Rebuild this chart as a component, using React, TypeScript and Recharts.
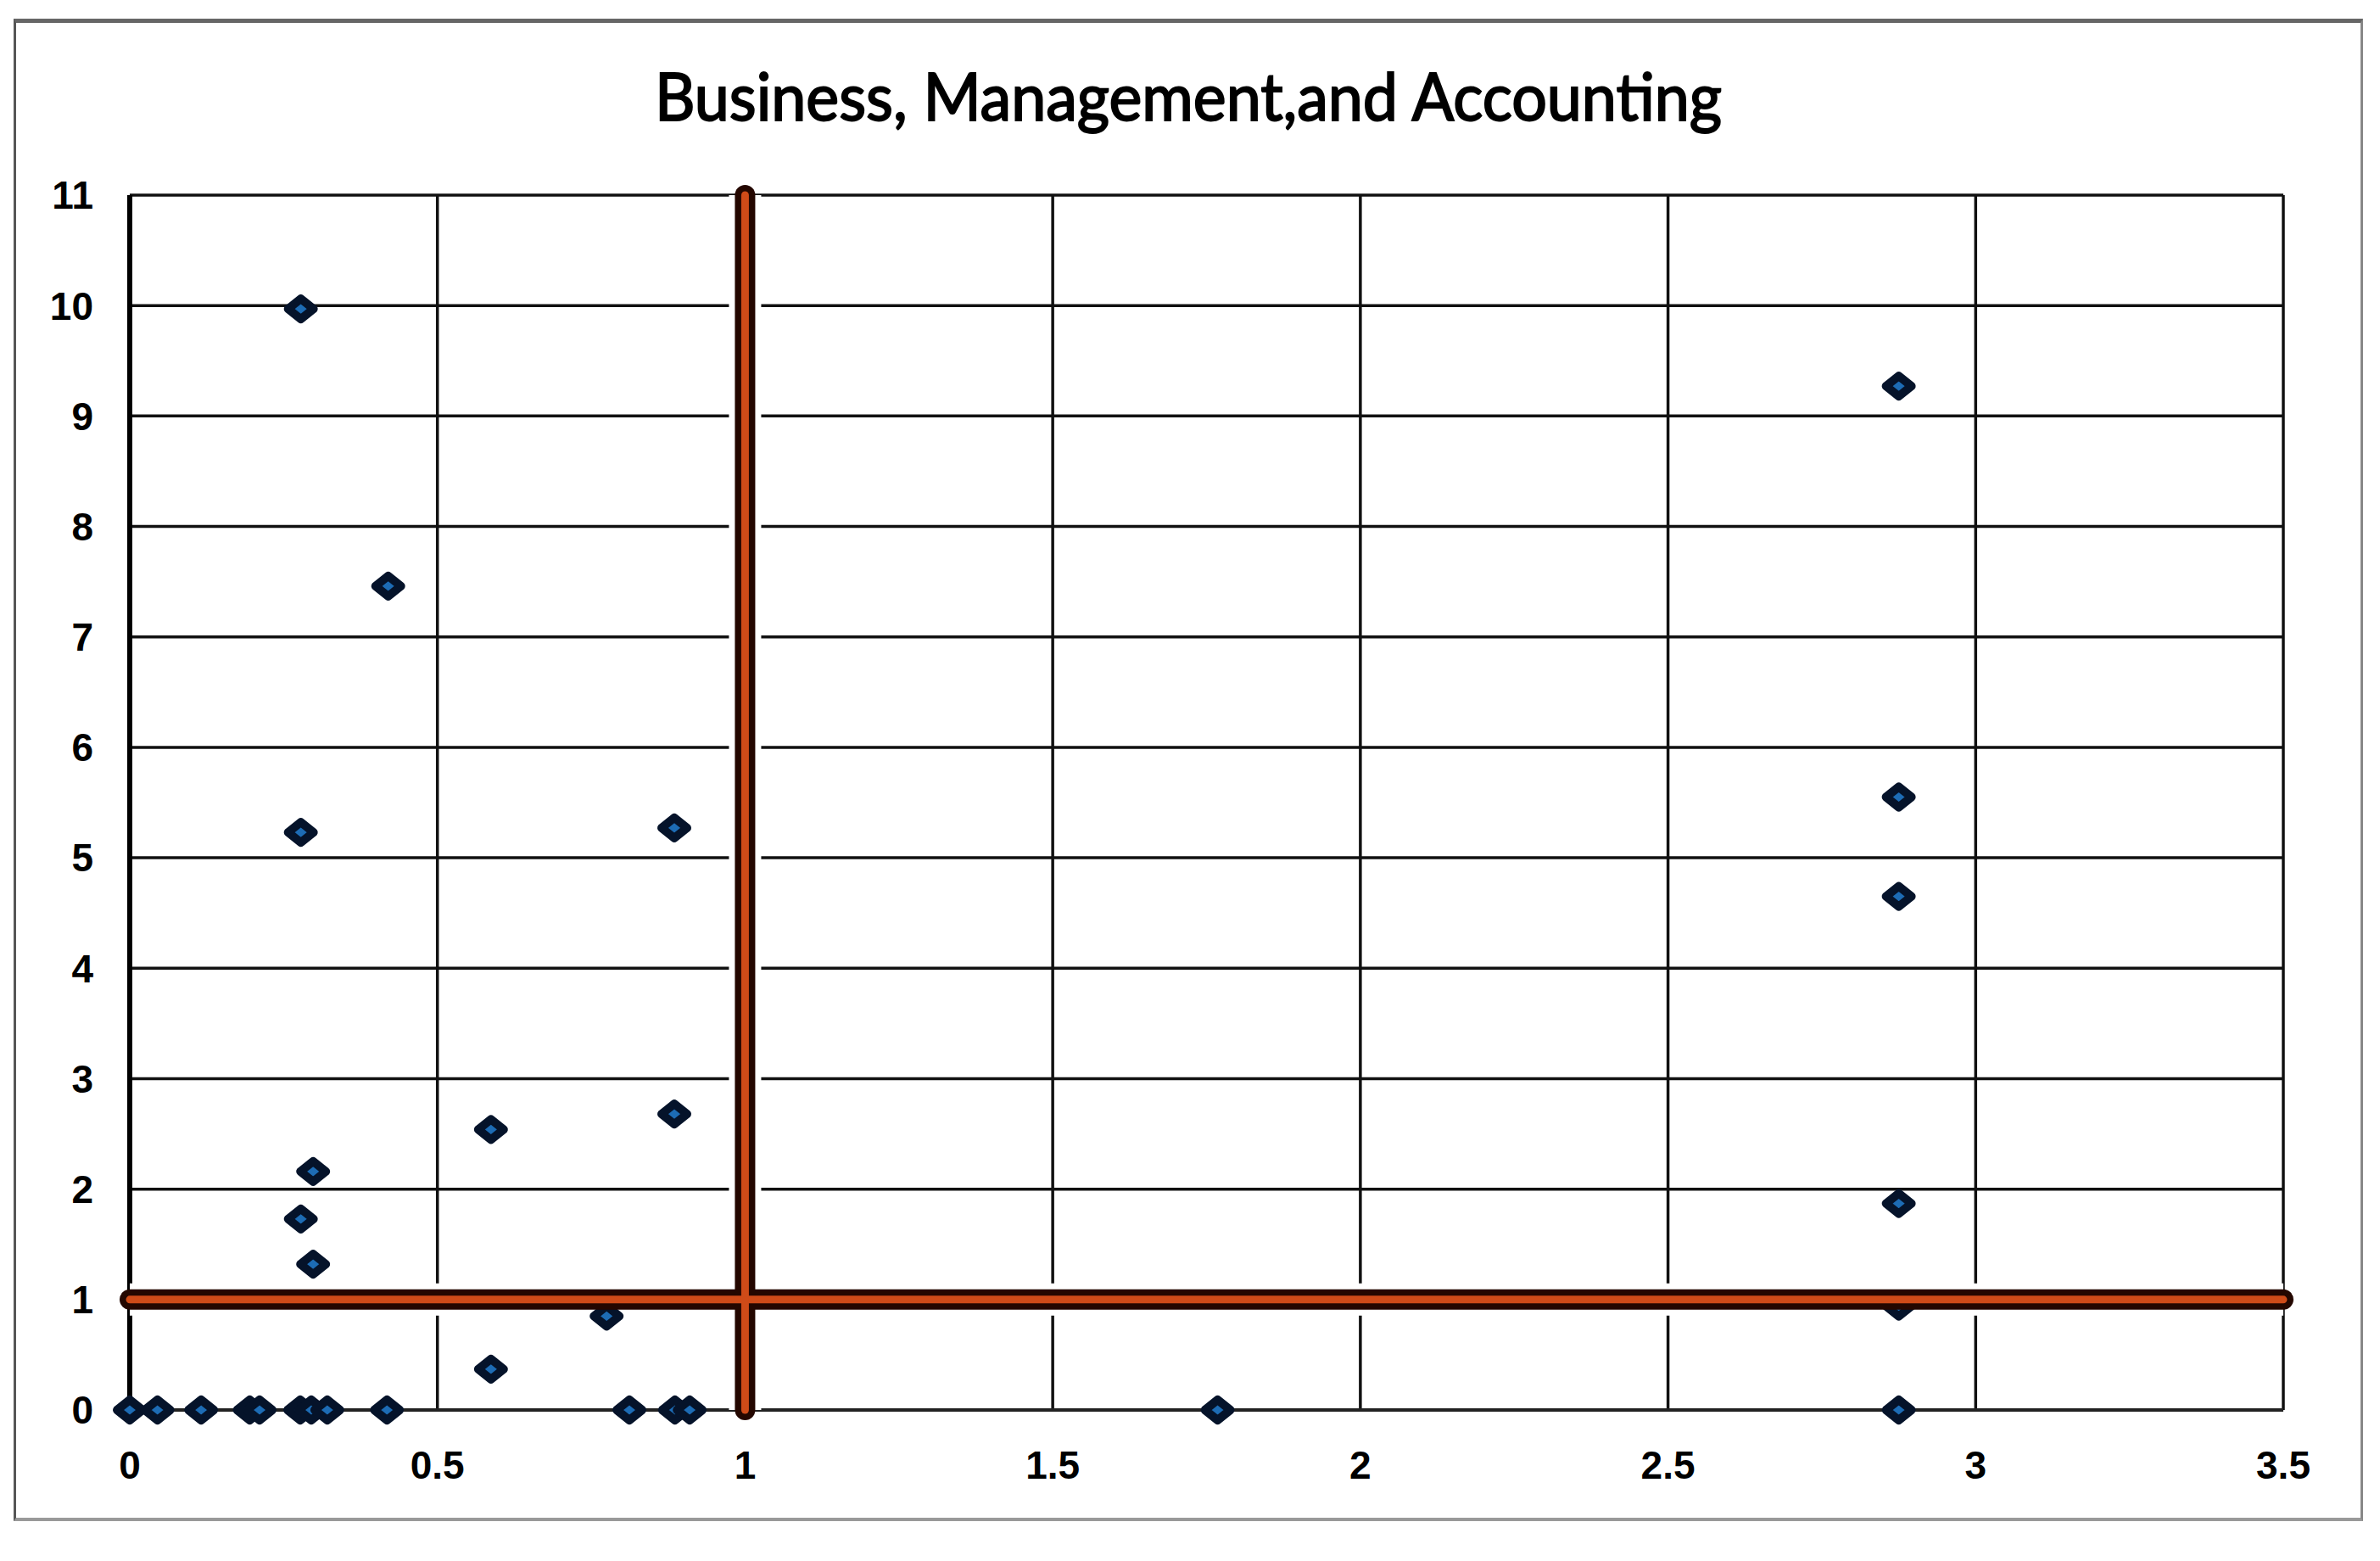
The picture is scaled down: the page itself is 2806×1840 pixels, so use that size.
import { ScatterChart, Scatter, XAxis, YAxis, CartesianGrid } from "recharts"

const title = "Business, Management,and Accounting"

const xTicks = [0, 0.5, 1, 1.5, 2, 2.5, 3, 3.5]
const yTicks = [0, 1, 2, 3, 4, 5, 6, 7, 8, 9, 10, 11]

// blue markers
const pointX = [
  0.278, 0.42, 0.278, 0.885, 0.587, 0.885, 0.298, 0.278, 0.298, 0.775, 0.587,
  2.875, 2.875, 2.875, 2.875, 2.875,
  0, 0.045, 0.116, 0.195, 0.211, 0.277, 0.295, 0.321, 0.418, 0.812, 0.886, 0.91, 1.768, 2.875,
]
const pointY = [
  9.97, 7.46, 5.23, 5.27, 2.54, 2.68, 2.16, 1.73, 1.32, 0.85, 0.37,
  9.27, 5.55, 4.65, 1.87, 0.94,
  0, 0, 0, 0, 0, 0, 0, 0, 0, 0, 0, 0, 0, 0,
]

// orange threshold lines
const hLineX = [0, 3.5]
const hLineY = [1, 1]
const vLineX = [1, 1]
const vLineY = [0, 11]

const points = pointX.map((x, i) => ({ x, y: pointY[i] }))
const hLine = hLineX.map((x, i) => ({ x, y: hLineY[i] }))
const vLine = vLineX.map((x, i) => ({ x, y: vLineY[i] }))

const tickStyle = {
  fill: "#000",
  fontSize: 46,
  fontWeight: 700,
  fontFamily: "'Liberation Sans', Arial, sans-serif",
}

function Diamond(props: any) {
  const { cx, cy } = props
  if (cx == null || cy == null) return <g />
  const r = 12
  return (
    <path
      d={`M${cx},${cy - r}L${cx + r + 3},${cy}L${cx},${cy + r}L${cx - r - 3},${cy}Z`}
      fill="#1d6cb5"
      stroke="#05132a"
      strokeWidth={10}
      strokeLinejoin="round"
    />
  )
}

const NoDot = () => <g />

export default function App() {
  return (
    <div style={{ position: "absolute", left: 0, top: 0, width: 2806, height: 1840, background: "#fff" }}>
      <div
        style={{
          position: "absolute",
          left: 16,
          top: 22,
          width: 2764,
          height: 1762,
          borderLeft: "3px solid #555",
          borderRight: "3px solid #888",
          borderBottom: "4px solid #999",
          borderTop: "5px solid #666",
        }}
      />
      <svg style={{ position: "absolute", left: 0, top: 0 }} width={2806} height={200}>
        <text
          x={1401}
          y={142}
          textAnchor="middle"
          fontSize={78}
          fontFamily="Lato, 'Open Sans', sans-serif"
          textLength={1258}
          lengthAdjust="spacingAndGlyphs"
          fill="#000"
          stroke="#000"
          strokeWidth={2}
        >
          {title}
        </text>
      </svg>
      <div style={{ position: "absolute", left: 0, top: 0 }}>
        <ScatterChart width={2806} height={1840} margin={{ top: 230, right: 114, bottom: 78, left: 33 }}>
          <CartesianGrid stroke="#111" strokeWidth={3.5} />
          <XAxis
            type="number"
            dataKey="x"
            domain={[0, 3.5]}
            ticks={xTicks}
            interval={0}
            height={100}
            tickSize={0}
            tickMargin={48}
            tickLine={false}
            axisLine={{ stroke: "#222", strokeWidth: 4 }}
            tick={tickStyle}
          />
          <YAxis
            type="number"
            dataKey="y"
            domain={[0, 11]}
            ticks={yTicks}
            interval={0}
            width={120}
            tickSize={0}
            tickMargin={43}
            tickLine={false}
            axisLine={{ stroke: "#000", strokeWidth: 6 }}
            tick={tickStyle}
          />
          <Scatter data={hLine} shape={NoDot} line={{ stroke: "#fff", strokeWidth: 38 }} isAnimationActive={false} />
          <Scatter data={vLine} shape={NoDot} line={{ stroke: "#fff", strokeWidth: 38 }} isAnimationActive={false} />
          <Scatter data={points} shape={Diamond} isAnimationActive={false} />
          <Scatter
            data={hLine}
            shape={NoDot}
            line={{ stroke: "#240700", strokeWidth: 24, strokeLinecap: "round" }}
            isAnimationActive={false}
          />
          <Scatter
            data={vLine}
            shape={NoDot}
            line={{ stroke: "#240700", strokeWidth: 24, strokeLinecap: "round" }}
            isAnimationActive={false}
          />
          <Scatter
            data={hLine}
            shape={NoDot}
            line={{ stroke: "#cf4b18", strokeWidth: 9, strokeLinecap: "round" }}
            isAnimationActive={false}
          />
          <Scatter
            data={vLine}
            shape={NoDot}
            line={{ stroke: "#cf4b18", strokeWidth: 9, strokeLinecap: "round" }}
            isAnimationActive={false}
          />
        </ScatterChart>
      </div>
    </div>
  )
}
